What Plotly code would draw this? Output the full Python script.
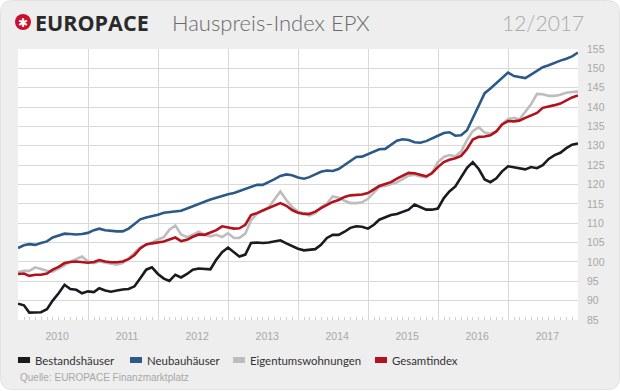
import plotly.graph_objects as go
import pandas as pd

# ---------------- data (monthly, Dec 2009 .. Dec 2017) ----------------
dates = pd.date_range('2010-01-01', periods=97, freq='MS') - pd.Timedelta(days=1)

bestand = [89.2, 88.8, 86.9, 86.9, 87.0, 87.8, 90.0, 91.9, 94.1, 93.0, 92.8, 91.9,
           92.4, 92.2, 93.2, 92.6, 92.3, 92.6, 92.9, 93.0, 93.7, 95.8, 98.0, 98.6,
           96.9, 95.7, 95.1, 96.7, 96.0, 96.9, 98.0, 98.3, 98.2, 98.1, 100.6, 102.5,
           103.7, 102.6, 101.4, 101.9, 104.9, 105.0, 104.9, 105.0, 105.3, 105.6, 104.8, 104.2,
           103.4, 103.0, 103.1, 103.3, 104.4, 106.2, 107.0, 107.0, 107.8, 108.8, 109.2, 109.1,
           108.6, 109.6, 110.9, 111.6, 112.1, 112.4, 112.9, 113.5, 114.8, 114.2, 113.5, 113.5,
           113.8, 116.5, 118.2, 119.5, 121.8, 124.3, 125.8, 124.0, 121.3, 120.6, 121.6, 123.4,
           124.7, 124.4, 124.1, 123.9, 124.5, 124.2, 125.0, 126.6, 127.6, 128.2, 129.4, 130.3,
           130.6]

neubau = [103.6, 104.3, 104.6, 104.4, 104.9, 105.3, 106.3, 106.7, 107.3, 107.2, 107.1, 107.2,
          107.5, 108.2, 108.6, 108.2, 108.0, 107.9, 107.9, 108.6, 109.8, 111.0, 111.5, 111.8,
          112.2, 112.7, 112.9, 113.0, 113.2, 113.8, 114.4, 115.0, 115.5, 116.1, 116.6, 117.1,
          117.5, 117.8, 118.3, 118.9, 119.5, 119.9, 119.9, 120.6, 121.4, 122.2, 122.6, 122.4,
          121.8, 121.5, 121.9, 122.6, 123.3, 123.6, 123.5, 124.0, 125.0, 126.2, 127.1, 127.2,
          127.8, 128.5, 129.1, 129.2, 130.2, 131.3, 131.7, 131.5, 130.9, 130.8, 131.2, 131.8,
          132.6, 133.3, 133.5, 132.6, 132.7, 134.0, 137.0, 140.5, 143.6, 144.8, 146.1, 147.5,
          148.9, 148.0, 147.7, 147.5, 148.4, 149.3, 150.3, 150.8, 151.5, 152.0, 152.5, 153.1,
          154.1]

etw = [97.4, 97.7, 97.7, 98.6, 98.2, 97.7, 97.5, 98.2, 99.1, 100.1, 100.8, 101.4,
       100.1, 99.7, 100.1, 99.8, 99.5, 99.3, 99.7, 100.9, 102.4, 103.8, 104.5, 105.0,
       105.8, 106.4, 108.3, 109.4, 107.1, 106.4, 107.0, 107.8, 107.0, 106.6, 107.0, 106.4,
       107.4, 106.2, 106.2, 107.3, 110.8, 112.4, 113.2, 114.1, 116.2, 118.2, 116.0, 114.2,
       113.0, 112.6, 112.0, 112.6, 114.1, 115.1, 116.9, 116.6, 115.8, 115.2, 115.2, 115.4,
       116.3, 118.0, 119.4, 119.6, 120.1, 120.6, 121.4, 122.3, 122.5, 122.1, 121.9, 123.0,
       125.8, 127.1, 127.6, 127.3, 128.5, 131.5, 133.8, 134.8, 133.4, 133.1, 133.8, 135.6,
       136.9, 137.2, 136.8, 138.8, 140.7, 143.4, 143.3, 142.9, 142.9, 143.2, 143.7, 143.9,
       144.0]

gesamt = [96.9, 97.0, 96.4, 96.7, 96.7, 97.0, 98.0, 98.7, 99.7, 100.0, 100.1, 100.0,
          99.8, 100.0, 100.5, 100.1, 99.9, 99.9, 100.1, 100.7, 101.8, 103.5, 104.5, 104.8,
          105.0, 105.3, 105.8, 106.3, 105.4, 105.7, 106.5, 107.1, 107.0, 107.6, 108.2, 109.2,
          108.9, 108.6, 108.7, 109.6, 112.1, 112.6, 113.3, 113.9, 114.6, 115.2, 114.5, 113.4,
          112.7, 112.4, 112.4, 113.0, 113.9, 114.7, 115.5, 116.0, 116.8, 117.2, 117.4, 117.4,
          117.8, 118.8, 119.6, 120.1, 120.6, 121.5, 122.2, 123.0, 122.9, 122.5, 122.1, 122.9,
          124.5, 125.8, 126.4, 126.8, 127.4, 129.2, 131.6, 132.3, 132.4, 132.7, 133.7, 135.5,
          136.4, 136.3, 136.5, 137.2, 137.9, 138.5, 139.8, 140.1, 140.5, 140.9, 141.8, 142.5,
          143.0]

series_names = ["Bestandshäuser", "Neubauhäuser", "Eigentumswohnungen", "Gesamtindex"]
series_values = [bestand, neubau, etw, gesamt]
series_colors = ["#1b1b1f", "#2b5a88", "#bdbdbd", "#b3121c"]

y_ticks = list(range(85, 156, 5))

title_brand = "EUROPACE"
title_text = "Hauspreis-Index EPX"
title_date = "12/2017"
source_text = "Quelle: EUROPACE Finanzmarktplatz"

# ---------------- geometry helpers (pixel -> paper) ----------------
W, H = 620, 391
ML, MR, MT, MB = 18, 42, 49, 71
PW, PH = W - ML - MR, H - MT - MB


def px(x):
    return (x - ML) / PW


def py(y):
    return (H - MB - y) / PH


fig = go.Figure()
for name, vals, col in zip(series_names, series_values, series_colors):
    fig.add_trace(go.Scatter(x=dates, y=vals, name=name, mode="lines",
                             line=dict(color=col, width=2.6), showlegend=False,
                             hoverinfo="skip"))

shapes = []
# card background with rounded corners
x0, x1, y0, y1 = px(0.5), px(619.5), py(389.5), py(0.5)
rx, ry = 12 / PW, 12 / PH
path = (f"M {x0+rx},{y1} L {x1-rx},{y1} Q {x1},{y1} {x1},{y1-ry} "
        f"L {x1},{y0+ry} Q {x1},{y0} {x1-rx},{y0} L {x0+rx},{y0} "
        f"Q {x0},{y0} {x0},{y0+ry} L {x0},{y1-ry} Q {x0},{y1} {x0+rx},{y1} Z")
shapes.append(dict(type="path", xref="paper", yref="paper", path=path,
                   fillcolor="#eeeeee", line=dict(color="#e2e2e2", width=1), layer="below"))
# white plot area
shapes.append(dict(type="rect", xref="paper", yref="paper", x0=0, x1=1, y0=0, y1=1,
                   fillcolor="white", line=dict(width=0), layer="below"))
# logo circle
shapes.append(dict(type="circle", xref="paper", yref="paper",
                   x0=px(15), x1=px(31), y0=py(30), y1=py(14),
                   fillcolor="#c8102e", line=dict(width=0)))

annotations = []
annotations.append(dict(text="✱", x=px(23), y=py(22.5), xref="paper", yref="paper",
                        showarrow=False, xanchor="center", yanchor="middle",
                        font=dict(family="DejaVu Sans", size=12, color="white")))
annotations.append(dict(text=f"<b>{title_brand}</b>", x=px(33), y=py(22), xref="paper",
                        yref="paper", showarrow=False, xanchor="left", yanchor="middle",
                        font=dict(family="Open Sans", size=21.5, color="#2a2a2a")))
annotations.append(dict(text=title_text, x=px(170), y=py(22), xref="paper", yref="paper",
                        showarrow=False, xanchor="left", yanchor="middle",
                        font=dict(family="Lato", size=22, color="#6a6a6a", weight=300)))
annotations.append(dict(text=title_date, x=px(586), y=py(22), xref="paper", yref="paper",
                        showarrow=False, xanchor="right", yanchor="middle",
                        font=dict(family="Lato", size=21, color="#aaaaaa", weight=300)))

# legend (boxes + labels)
leg_x = [18, 130, 233, 375]
for name, col, lx in zip(series_names, series_colors, leg_x):
    shapes.append(dict(type="rect", xref="paper", yref="paper",
                       x0=px(lx), x1=px(lx + 12), y0=py(363), y1=py(357),
                       fillcolor=col, line=dict(width=0)))
    annotations.append(dict(text=name, x=px(lx + 15), y=py(360), xref="paper", yref="paper",
                            showarrow=False, xanchor="left", yanchor="middle",
                            font=dict(family="Lato", size=11.4, color="#333333")))

annotations.append(dict(text=source_text, x=px(18), y=py(377), xref="paper", yref="paper",
                        showarrow=False, xanchor="left", yanchor="middle",
                        font=dict(family="Liberation Sans", size=10, color="#a8a8a8")))

fig.update_layout(
    width=W, height=H,
    margin=dict(l=ML, r=MR, t=MT, b=MB, pad=0),
    paper_bgcolor="white", plot_bgcolor="white",
    showlegend=False,
    shapes=shapes, annotations=annotations,
    xaxis=dict(type="date", range=[dates[0], dates[-1]],
               tick0="2010-01-01", dtick="M12", ticklabelmode="period",
               tickformat="%Y", ticks="", showgrid=True, gridcolor="#d9d9d9", gridwidth=1.3,
               zeroline=False, showline=False, automargin=False,
               tickfont=dict(family="Liberation Sans", size=10.5, color="#a8a8a8"),
               ticklabelstandoff=8, ticklabelshift=4,
               minor=dict(dtick="M1", tick0="2010-01-01", ticks="inside", ticklen=3,
                          tickcolor="#d0d0d0", tickwidth=1, showgrid=False)),
    yaxis=dict(range=[85, 155], tickvals=y_ticks, side="right", showgrid=True,
               gridcolor="#d9d9d9", gridwidth=1.3, zeroline=False, showline=False, ticks="",
               ticklabelstandoff=8, automargin=False,
               tickfont=dict(family="Liberation Sans", size=10.5, color="#a8a8a8")),
)

fig.write_html(
    "out.html",
    config={"displayModeBar": False},
    post_script="document.body.style.margin='0';"
                "document.body.style.overflow='hidden';"
                "document.documentElement.style.overflow='hidden';",
)
